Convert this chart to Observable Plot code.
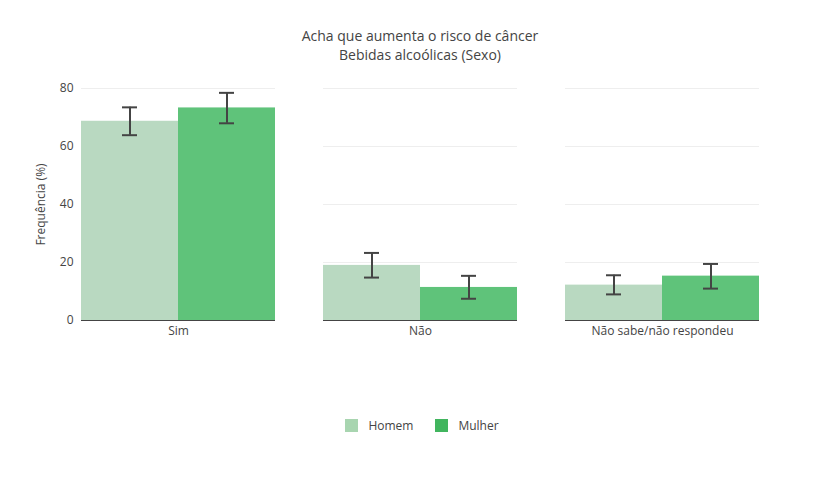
<!DOCTYPE html>
<html><head><meta charset="utf-8">
<script src="https://cdn.jsdelivr.net/npm/d3@7"></script>
<script src="https://cdn.jsdelivr.net/npm/@observablehq/plot@0.6"></script>
<style>
body{margin:0;font-family:"Open Sans",sans-serif;background:#fff}
#wrap{position:relative;width:840px;height:480px}
#title{position:absolute;top:26px;left:0;width:840px;text-align:center;font-size:14px;color:#444;line-height:19px}
#legend{position:absolute;top:417px;left:0;width:840px;text-align:center;font-size:12px;color:#444}
.sw{display:inline-block;width:13px;height:13px;vertical-align:-2px;margin:0 10px 0 4px}
</style></head><body>
<div id="wrap">
<div id="title">Acha que aumenta o risco de câncer<br>Bebidas alcoólicas (Sexo)</div>
<div id="chart"></div>
<div id="legend"><span class="sw" style="background:#a8d5b0"></span>Homem<span style="display:inline-block;width:18px"></span><span class="sw" style="background:#41b55e"></span>Mulher</div>
</div>
<script>
const categories = ["Sim","Não","Não sabe/não respondeu"];
const sexes = ["Homem","Mulher"];
const homem = [68.7, 19.0, 12.2];
const homemLow = [63.9, 14.8, 9.0];
const homemHigh = [73.5, 23.3, 15.6];
const mulher = [73.3, 11.4, 15.3];
const mulherLow = [68.0, 7.5, 11.0];
const mulherHigh = [78.5, 15.4, 19.5];
const data = [];
categories.forEach((c,i)=>{
  data.push({cat:c,sexo:"Homem",v:homem[i],lo:homemLow[i],hi:homemHigh[i]});
  data.push({cat:c,sexo:"Mulher",v:mulher[i],lo:mulherLow[i],hi:mulherHigh[i]});
});
const chart = Plot.plot({
  width:840,height:480,marginTop:88,marginBottom:160,marginLeft:80,marginRight:80,
  style:{fontFamily:"Open Sans",fontSize:"12px",color:"#444"},
  fx:{domain:categories,padding:0.2,label:null,axis:"bottom",tickSize:0,tickPadding:6},
  x:{domain:sexes,padding:0,axis:null},
  y:{domain:[0,80],ticks:[0,20,40,60,80],grid:true,label:"Frequência (%)",labelAnchor:"center",labelArrow:"none",tickSize:0,tickPadding:8,labelOffset:45},
  color:{domain:sexes,range:["#b9d9c1","#5fc37a"]},
  marks:[
    Plot.gridY([20,40,60,80],{stroke:"#eee",strokeOpacity:1}),
    Plot.barY(data,{fx:"cat",x:"sexo",y:"v",fill:"sexo"}),
    Plot.ruleX(data,{fx:"cat",x:"sexo",y1:"lo",y2:"hi",stroke:"#444",strokeWidth:2}),
    Plot.tickY(data,{fx:"cat",x:"sexo",y:"lo",stroke:"#444",strokeWidth:2,insetLeft:41,insetRight:41}),
    Plot.tickY(data,{fx:"cat",x:"sexo",y:"hi",stroke:"#444",strokeWidth:2,insetLeft:41,insetRight:41}),
    Plot.ruleY([0],{stroke:"#444",strokeWidth:1})
  ]
});
document.getElementById("chart").appendChild(chart);
</script>
</body></html>
